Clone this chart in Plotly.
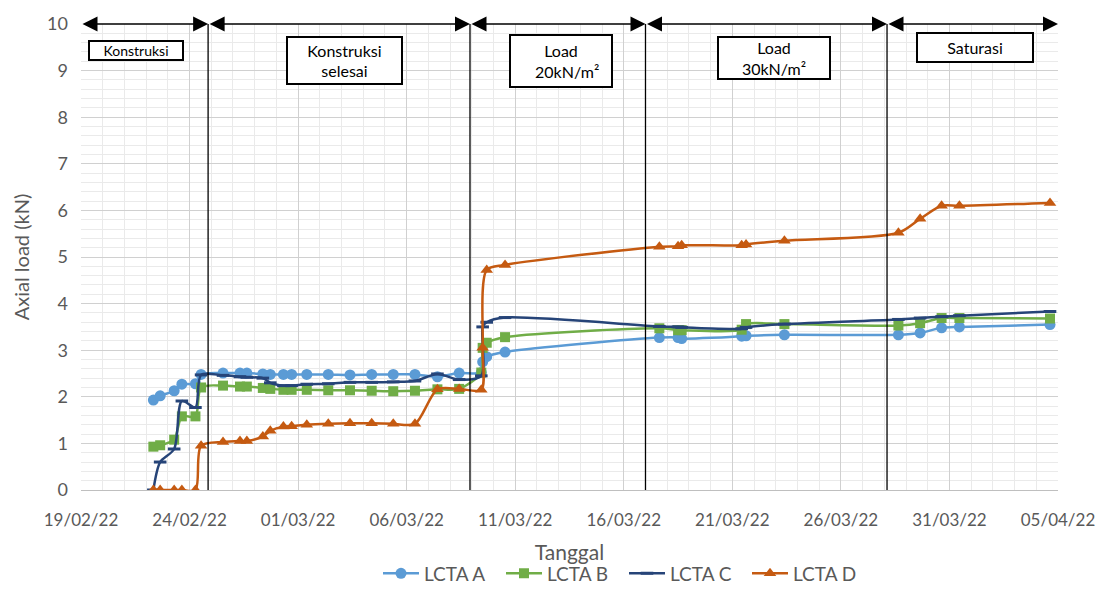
import plotly.graph_objects as go

# measurement times
dates = [
    "2022-02-22 08:00", "2022-02-22 15:30", "2022-02-23 07:00", "2022-02-23 15:30",
    "2022-02-24 06:30", "2022-02-24 12:45", "2022-02-25 13:00", "2022-02-26 07:45",
    "2022-02-26 15:20", "2022-02-27 09:00", "2022-02-27 17:15", "2022-02-28 07:45",
    "2022-02-28 16:50", "2022-03-01 09:35", "2022-03-02 09:20", "2022-03-03 09:20",
    "2022-03-04 09:20", "2022-03-05 09:10", "2022-03-06 09:10", "2022-03-07 10:00",
    "2022-03-08 10:00", "2022-03-09 10:30", "2022-03-09 12:00", "2022-03-09 16:30",
    "2022-03-10 12:45", "2022-03-17 15:20", "2022-03-18 12:00", "2022-03-18 16:00",
    "2022-03-21 10:20", "2022-03-21 15:10", "2022-03-23 09:35", "2022-03-28 15:35",
    "2022-03-29 15:35", "2022-03-30 15:20", "2022-03-31 11:00", "2022-04-04 15:10",
]

lcta_a = [1.93, 2.02, 2.13, 2.27, 2.28, 2.48, 2.51, 2.51, 2.51, 2.49, 2.48, 2.48,
          2.48, 2.48, 2.48, 2.47, 2.48, 2.48, 2.48, 2.43, 2.51, 2.52, 2.75, 2.86,
          2.96, 3.27, 3.27, 3.25, 3.30, 3.31, 3.33, 3.33, 3.37, 3.48, 3.50, 3.55]
lcta_b = [0.93, 0.96, 1.08, 1.58, 1.58, 2.20, 2.24, 2.22, 2.22, 2.19, 2.17, 2.15,
          2.15, 2.15, 2.14, 2.14, 2.13, 2.12, 2.13, 2.16, 2.17, 2.52, 3.05, 3.16,
          3.28, 3.47, 3.43, 3.43, 3.44, 3.56, 3.56, 3.53, 3.58, 3.69, 3.69, 3.68]
lcta_c = [0.00, 0.60, 0.88, 1.91, 1.77, 2.47, 2.46, 2.43, 2.42, 2.40, 2.30, 2.24,
          2.24, 2.27, 2.28, 2.31, 2.31, 2.32, 2.34, 2.49, 2.37, 2.45, 3.50, 3.60,
          3.70, 3.51, 3.50, 3.49, 3.46, 3.49, 3.56, 3.66, 3.69, 3.72, 3.74, 3.83]
lcta_d = [0.00, 0.00, 0.00, 0.00, 0.00, 0.95, 1.03, 1.05, 1.05, 1.15, 1.27, 1.36,
          1.37, 1.40, 1.42, 1.43, 1.43, 1.42, 1.42, 2.16, 2.17, 2.15, 3.05, 4.72,
          4.83, 5.22, 5.23, 5.25, 5.25, 5.27, 5.35, 5.52, 5.82, 6.10, 6.10, 6.16]

series_names = ["LCTA A", "LCTA B", "LCTA C", "LCTA D"]

# phase boundaries and labels
phase_bounds = ["2022-02-19 00:00", "2022-02-24 20:30", "2022-03-08 22:00",
                "2022-03-17 00:00", "2022-03-28 03:00", "2022-04-05 00:00"]
phase_labels = ["Konstruksi", "Konstruksi<br>selesai", "Load<br>   20kN/m²",
                "Load<br>30kN/m²", "Saturasi"]

FONT = "Lato"
GRAY = "#595959"

fig = go.Figure()

styles = [
    dict(color="#5B9BD5", symbol="circle", size=11),
    dict(color="#70AD47", symbol="square", size=10),
    dict(color="#264478", symbol="line-ew", size=9),
    dict(color="#C55A11", symbol="triangle-up", size=11),
]
for name, vals, st in zip(series_names, [lcta_a, lcta_b, lcta_c, lcta_d], styles):
    marker = dict(symbol=st["symbol"], size=st["size"], color=st["color"])
    if st["symbol"] == "line-ew":
        marker["line"] = dict(color=st["color"], width=3)
    fig.add_trace(go.Scatter(
        x=dates, y=vals, name=name, mode="lines+markers",
        line=dict(color=st["color"], width=2.5, shape="spline", smoothing=0.8),
        marker=marker,
    ))

# Phase divider lines and arrows
for b in phase_bounds[1:-1]:
    fig.add_shape(type="line", xref="x", yref="y", x0=b, x1=b, y0=0, y1=10,
                  line=dict(color="black", width=1.3), layer="above")
for a, b in zip(phase_bounds[:-1], phase_bounds[1:]):
    fig.add_annotation(x=b, y=10, ax=a, ay=10, xref="x", yref="y", axref="x", ayref="y",
                       text="", showarrow=True, arrowhead=2, startarrowhead=2,
                       arrowside="end+start", arrowsize=2, arrowwidth=1.5,
                       arrowcolor="black", standoff=0, startstandoff=0)

# label boxes (pixel centres converted to paper coords)
L, R, T, B = 81, 57, 24, 111
PW, PH = 1115 - L - R, 604 - T - B
boxes = [  # cx, cy, w, h, fontsize
    (136, 51, 96, 21, 14),
    (344, 61, 117, 49, 16),
    (561, 61.5, 104, 54, 16),
    (774, 58, 114, 44, 16),
    (975, 48, 118, 31, 16),
]
for lab, (cx, cy, w, h, fs) in zip(phase_labels, boxes):
    fig.add_annotation(x=(cx - L) / PW, y=(604 - B - cy) / PH, xref="paper", yref="paper",
                       xanchor="center", yanchor="middle", text=lab, showarrow=False,
                       width=w - 4, height=h - 4, borderwidth=2, borderpad=0,
                       bordercolor="black", bgcolor="white", align="center", valign="middle",
                       font=dict(family=FONT, size=fs, color="black"))

DAY = 86400000
fig.update_layout(
    width=1115, height=604,
    margin=dict(l=L, r=R, t=T, b=B),
    plot_bgcolor="white", paper_bgcolor="white",
    font=dict(family=FONT, color=GRAY),
    showlegend=True,
    legend=dict(orientation="h", x=(378 - L) / PW, xanchor="left",
                y=(604 - B - 577) / PH, yanchor="middle",
                font=dict(family=FONT, size=19, color=GRAY),
                entrywidth=72, entrywidthmode="pixels", itemwidth=36),
    xaxis=dict(
        type="date", range=[phase_bounds[0], phase_bounds[-1]],
        tick0="2022-02-19", dtick=5 * DAY, tickformat="%d/%m/%y",
        showgrid=True, gridcolor="#D0D0D0", gridwidth=1.3,
        minor=dict(dtick=DAY, tick0="2022-02-19", showgrid=True, gridcolor="#EAEAEA", gridwidth=1),
        showline=True, linecolor="#BFBFBF", linewidth=1.3,
        ticks="", zeroline=False,
        tickfont=dict(family=FONT, size=17, color=GRAY),
        ticklabelstandoff=14,
        title=dict(text="Tanggal", font=dict(family=FONT, size=21, color=GRAY), standoff=16),
    ),
    yaxis=dict(
        range=[0, 10], dtick=1, tick0=0,
        showgrid=True, gridcolor="#D0D0D0", gridwidth=1.3,
        minor=dict(dtick=0.2, showgrid=True, gridcolor="#EAEAEA", gridwidth=1),
        showline=False, ticks="", zeroline=False,
        tickfont=dict(family=FONT, size=18, color=GRAY),
        ticklabelstandoff=12,
        title=dict(text="Axial load (kN)", font=dict(family=FONT, size=20, color=GRAY), standoff=12),
    ),
)

fig.write_html("out.html")
